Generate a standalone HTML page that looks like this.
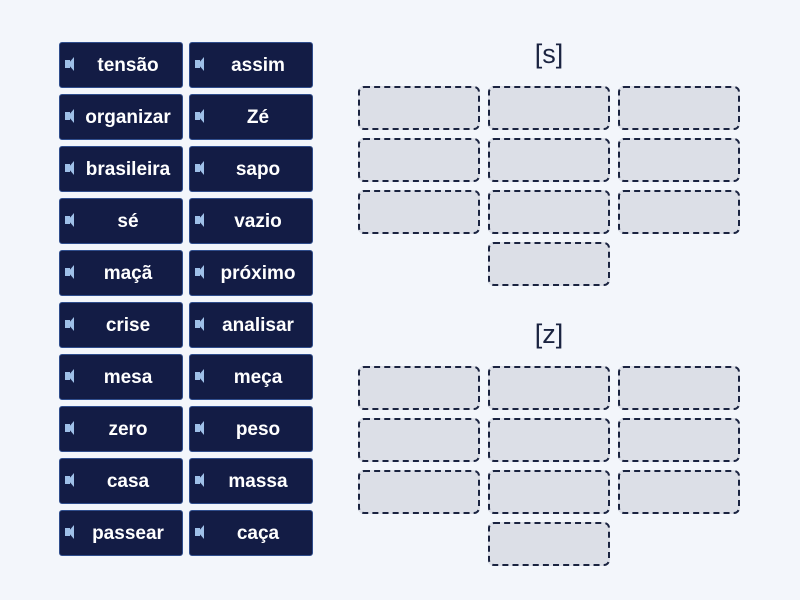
<!DOCTYPE html><html><head><style>
body{margin:0;width:800px;height:600px;background:#f3f6fb;position:relative;overflow:hidden;font-family:"Liberation Sans","DejaVu Sans",sans-serif}
.t{position:absolute;width:122px;height:44px;background:#131c45;border:1px solid #2f4d8c;border-radius:3px;color:#fff;font-weight:bold;font-size:19px;line-height:46px;text-align:center;box-sizing:content-box}
.t span{padding-left:14px}
.t i{position:absolute;left:5px;top:17px;width:5px;height:8px;background:#9fc0e8}
.t i:after{content:"";position:absolute;left:3px;top:-3px;border-right:6px solid #9fc0e8;border-top:7px solid transparent;border-bottom:7px solid transparent}
.z{position:absolute;width:118px;height:40px;background:#dcdfe7;border:2px dashed #1a2340;border-radius:6px}
.h{position:absolute;left:500px;width:98px;text-align:center;font-size:27px;color:#1a2340}
</style></head><body>
<div class="h" style="top:39px">[s]</div>
<div class="h" style="top:319px">[z]</div>
<div id="c"></div>
<script>
var L=["tensão","organizar","brasileira","sé","maçã","crise","mesa","zero","casa","passear"],R=["assim","Zé","sapo","vazio","próximo","analisar","meça","peso","massa","caça"],h="";
for(var i=0;i<10;i++){var y=42+52*i;h+='<div class="t" style="left:59px;top:'+y+'px"><i></i><span>'+L[i]+'</span></div><div class="t" style="left:189px;top:'+y+'px"><i></i><span>'+R[i]+'</span></div>';}
[86,366].forEach(function(b){for(var r=0;r<3;r++)for(var c=0;c<3;c++)h+='<div class="z" style="left:'+(358+130*c)+'px;top:'+(b+52*r)+'px"></div>';h+='<div class="z" style="left:488px;top:'+(b+156)+'px"></div>';});
document.getElementById("c").innerHTML=h;
</script>
</body></html>
